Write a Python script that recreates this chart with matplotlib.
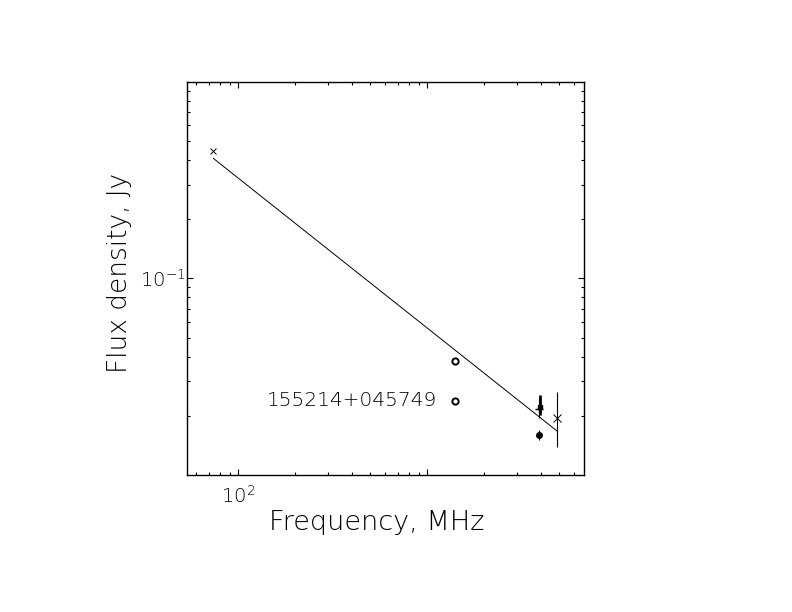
import numpy as np
import matplotlib
matplotlib.use("Agg")
import matplotlib.pyplot as plt
from matplotlib.ticker import FixedLocator, NullFormatter

# measurements, MHz / Jy
vlss_freq = [74.0]
vlss_flux = [0.443]

nvss_freq = [1400.0]
nvss_flux = [0.038]
first_freq = [1400.0]
first_flux = [0.0239]

sq_freq = [3960.0]
sq_flux = [0.0222]
sq_err_lo = [0.0202]
sq_err_hi = [0.0255]

plus_freq = [3880.0]
plus_flux = [0.0217]
plus_err_lo = [0.0195]
plus_err_hi = [0.0245]

dot_freq = [3920.0]
dot_flux = [0.01595]
dot_err_lo = [0.0151]
dot_err_hi = [0.0169]

gb6_freq = [4850.0]
gb6_flux = [0.0194]
gb6_err_lo = [0.01387]
gb6_err_hi = [0.0264]

# power law fit end points
fit_freq = [74.0, 4850.0]
fit_flux = [0.407, 0.01675]

source_name = "155214+045749"
label_freq = 141.0
label_flux = 0.0239

x_major = [100.0, 1000.0]
x_major_labels = [r"$10^{2}$", ""]
x_minor = [60, 70, 80, 90, 200, 300, 400, 500, 600, 700, 800, 900,
           2000, 3000, 4000, 5000, 6000]
y_major = [0.1]
y_major_labels = [r"$10^{-1}$"]
y_minor = [0.02, 0.03, 0.04, 0.05, 0.06, 0.07, 0.08, 0.09,
           0.2, 0.3, 0.4, 0.5, 0.6, 0.7, 0.8, 0.9]

plt.rcParams["font.family"] = ["DejaVu Sans"]
plt.rcParams["font.weight"] = 200
plt.rcParams["axes.labelweight"] = 200
plt.rcParams["mathtext.default"] = "regular"
plt.rcParams["text.color"] = "black"


def yerr(flux, lo, hi):
    f = np.array(flux)
    return [f - np.array(lo), np.array(hi) - f]


fig = plt.figure(figsize=(7.92, 6.12), dpi=100)
ax = fig.add_axes([0.2357, 0.2239, 0.5017, 0.6426])
ax.set_xscale("log")
ax.set_yscale("log")

ax.plot(fit_freq, fit_flux, color="black", lw=0.7)

ax.plot(vlss_freq, vlss_flux, "x", color="black", ms=5, mew=0.7)
ax.plot(nvss_freq, nvss_flux, "o", mfc="white", mec="black", ms=4.5, mew=1.4)
ax.plot(first_freq, first_flux, "o", mfc="white", mec="black", ms=4.5, mew=1.4)

ax.errorbar(plus_freq, plus_flux, yerr=yerr(plus_flux, plus_err_lo, plus_err_hi),
            fmt="+", color="black", ms=6, mew=1.0, elinewidth=0.8, capsize=0)
ax.errorbar(sq_freq, sq_flux, yerr=yerr(sq_flux, sq_err_lo, sq_err_hi),
            fmt="s", color="black", ms=3.5, elinewidth=2.0, capsize=0)
ax.errorbar(dot_freq, dot_flux, yerr=yerr(dot_flux, dot_err_lo, dot_err_hi),
            fmt="o", color="black", ms=4, elinewidth=0.8, capsize=0)
ax.errorbar(gb6_freq, gb6_flux, yerr=yerr(gb6_flux, gb6_err_lo, gb6_err_hi),
            fmt="x", color="black", ms=6, mew=0.7, elinewidth=0.8, capsize=0)

ax.text(label_freq, label_flux, source_name, fontsize=14.5,
        ha="left", va="center")

ax.set_xlim(53.4, 6745.0)
ax.set_ylim(0.01, 1.0)

ax.xaxis.set_major_locator(FixedLocator(x_major))
ax.set_xticklabels(x_major_labels)
ax.xaxis.set_minor_locator(FixedLocator(x_minor))
ax.xaxis.set_minor_formatter(NullFormatter())
ax.yaxis.set_major_locator(FixedLocator(y_major))
ax.set_yticklabels(y_major_labels)
ax.yaxis.set_minor_locator(FixedLocator(y_minor))
ax.yaxis.set_minor_formatter(NullFormatter())

ax.tick_params(which="both", direction="in", top=True, right=True,
               width=0.8, labelsize=14, color="black", labelcolor="black")
ax.tick_params(which="major", length=4.5)
ax.tick_params(axis="x", which="major", pad=7)
ax.tick_params(axis="y", which="major", pad=1)
ax.tick_params(which="minor", length=2.5)
for sp in ax.spines.values():
    sp.set_linewidth(1.0)

ax.set_xlabel("Frequency, MHz", fontsize=19.5, va="center")
ax.xaxis.set_label_coords(0.479, -0.122)
ax.set_ylabel("Flux density, Jy", fontsize=19, va="center")
ax.yaxis.set_label_coords(-0.168, 0.514)

fig.savefig("out.png", dpi=100, facecolor="white")
